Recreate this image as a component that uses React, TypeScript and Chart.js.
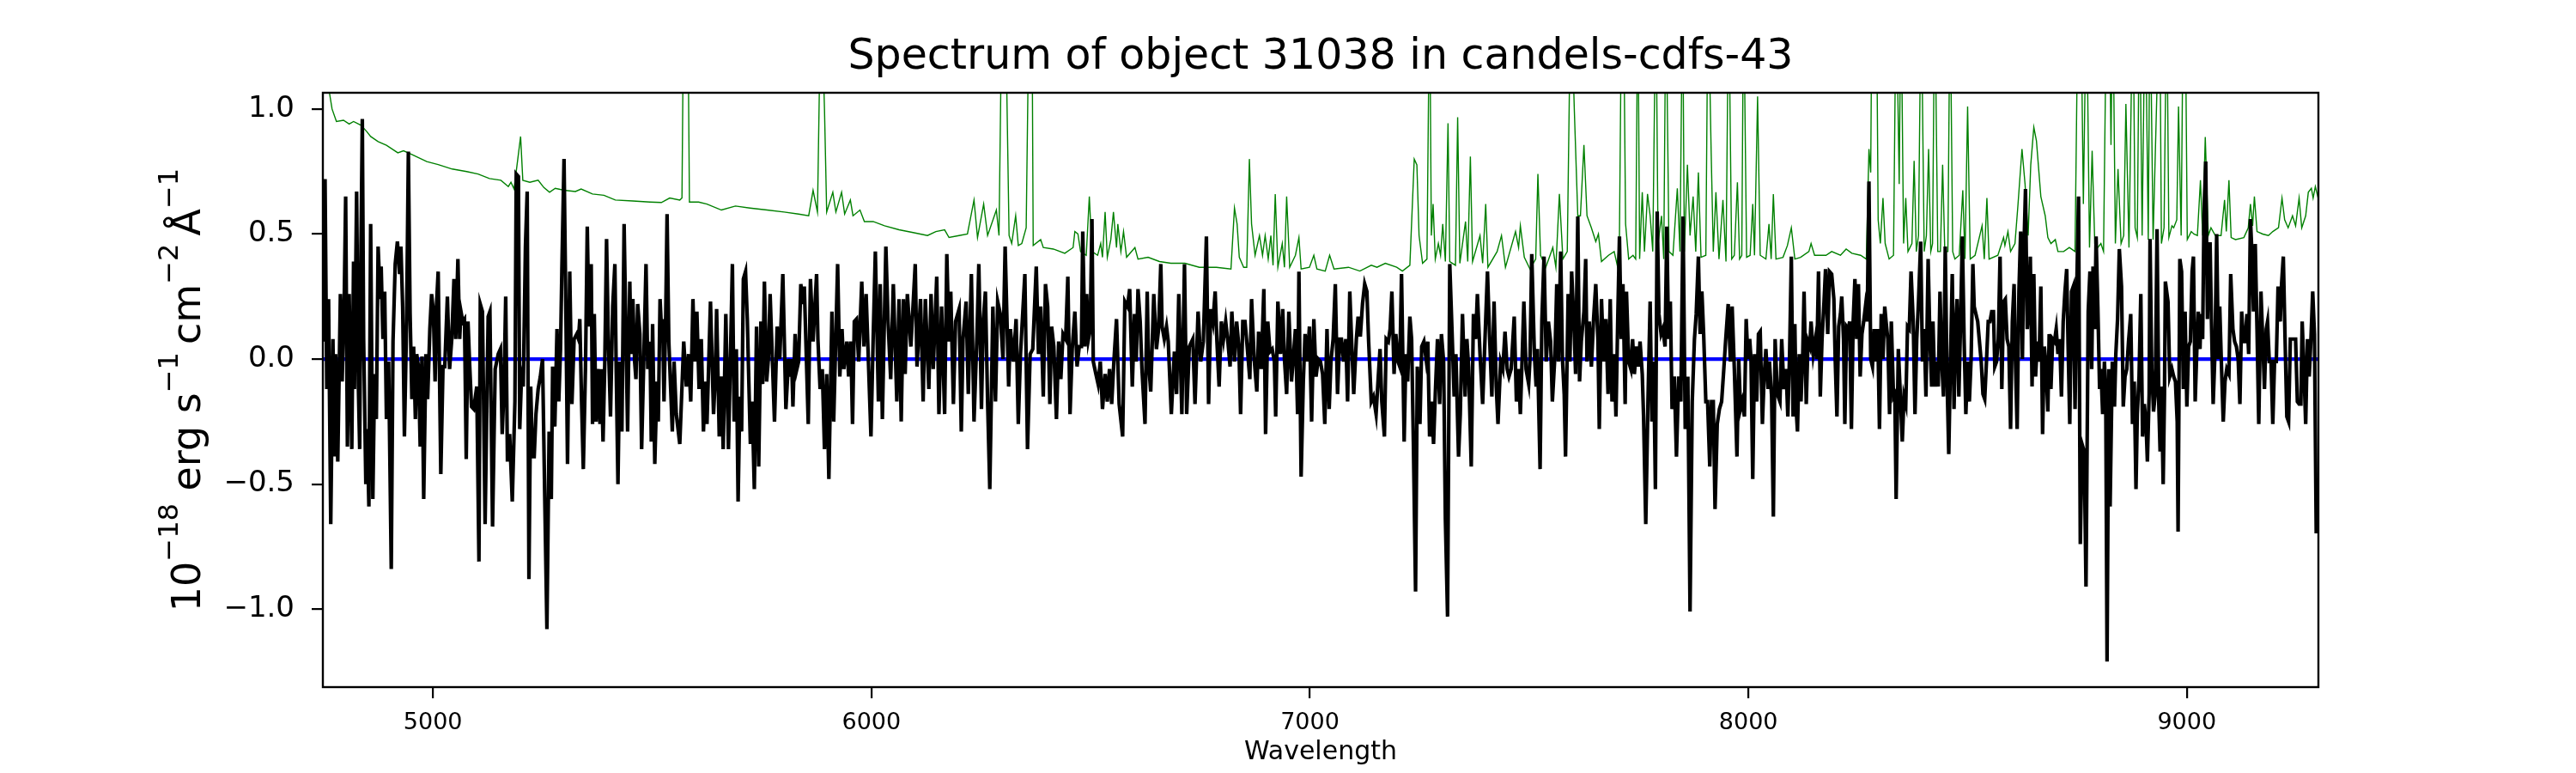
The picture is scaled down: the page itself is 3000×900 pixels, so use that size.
import { useEffect, useRef } from "react"
import { Chart, registerables } from "chart.js"

Chart.register(...registerables)

const chartTitle = "Spectrum of object 31038 in candels-cdfs-43"
const xLabel = "Wavelength"
// y label pieces: [text, superscript?]
const yLabelParts: [string, boolean][] = [
  ["10", false], ["\u221218", true], [" erg s", false], ["\u22121", true],
  ["\u2009cm", false], ["\u22122", true], ["\u2009Å", false], ["\u22121", true],
]

const xTicks = [5000, 6000, 7000, 8000, 9000]
const yTicks = [-1, -0.5, 0, 0.5, 1]

const flux: [number, number][] = [
  [4749, 0.07], [4754, 0.72], [4758, -0.12], [4762, 0.24], [4767, -0.66], [4772, 0.08], [4775, -0.39], [4778, 0.02], [4783, -0.41], [4789, 0.26],
  [4793, -0.09], [4798, 0.27], [4801, 0.65], [4805, -0.35], [4809, 0.26], [4815, -0.36], [4819, 0.39], [4821, -0.12], [4826, 0.67], [4830, -0.11],
  [4833, -0.36], [4836, 0.46], [4839, 0.96], [4842, 0.08], [4847, -0.5], [4850, -0.28], [4854, -0.59], [4858, 0.54], [4863, -0.56], [4867, -0.06],
  [4871, -0.24], [4875, 0.45], [4880, 0.24], [4882, 0.37], [4886, 0.08], [4890, 0.27], [4894, -0.24], [4899, -0.01], [4905, -0.84], [4909, 0.07],
  [4914, 0.38], [4919, 0.47], [4924, 0.34], [4927, 0.45], [4931, 0.21], [4935, -0.31], [4940, 0.15], [4944, 0.83], [4948, 0.18], [4952, -0.16],
  [4956, 0.05], [4960, -0.24], [4963, 0.02], [4967, -0.03], [4971, -0.35], [4975, 0.01], [4979, -0.56], [4984, 0.02], [4988, -0.16], [4993, 0.12],
  [4997, 0.26], [5001, 0.19], [5005, -0.09], [5008, 0.21], [5012, 0.35], [5015, -0.06], [5018, -0.46], [5023, -0.03], [5027, -0.03], [5033, 0.25],
  [5038, -0.04], [5043, 0.08], [5048, 0.32], [5052, 0.08], [5057, 0.4], [5061, 0.08], [5064, 0.19], [5068, 0.15], [5072, 0.16], [5076, -0.4],
  [5080, 0.15], [5084, -0.03], [5088, -0.19], [5093, -0.2], [5100, -0.11], [5105, -0.81], [5108, 0.22], [5113, 0.19], [5119, -0.66], [5126, 0.17],
  [5130, 0.19], [5136, -0.67], [5142, -0.04], [5149, 0.02], [5154, 0.04], [5158, -0.3], [5162, -0.12], [5166, 0.25], [5170, -0.41], [5175, -0.3],
  [5181, -0.57], [5187, -0.17], [5190, 0.74], [5195, 0.73], [5198, -0.28], [5202, -0.07], [5206, -0.11], [5211, 0.45], [5215, 0.67], [5219, -0.88],
  [5223, -0.11], [5227, -0.39], [5231, -0.39], [5235, -0.22], [5240, -0.12], [5245, -0.07], [5250, 0], [5255, -0.55], [5260, -1.08], [5265, -0.29],
  [5270, -0.56], [5273, -0.03], [5278, -0.27], [5283, 0.12], [5287, -0.17], [5291, 0.04], [5294, 0.35], [5299, 0.8], [5303, 0.23], [5307, -0.42],
  [5312, 0.35], [5317, -0.18], [5322, 0.08], [5328, 0.1], [5332, 0.08], [5335, 0.16], [5339, -0.17], [5343, -0.44], [5348, -0.03], [5352, 0.53],
  [5356, 0.13], [5361, 0.38], [5364, -0.26], [5368, 0.18], [5372, -0.25], [5376, -0.04], [5381, -0.26], [5384, -0.04], [5388, -0.33], [5392, -0.01],
  [5396, 0.48], [5400, 0.08], [5405, -0.23], [5410, 0.21], [5415, 0.38], [5418, -0.04], [5422, -0.5], [5426, -0.01], [5431, -0.29], [5436, 0.54],
  [5441, 0.02], [5444, -0.29], [5449, 0.31], [5452, 0.02], [5456, 0.24], [5460, -0.01], [5463, -0.08], [5467, 0.22], [5472, 0.1], [5476, -0.36],
  [5482, 0.08], [5486, 0.38], [5490, -0.04], [5495, 0.07], [5498, -0.33], [5501, 0.14], [5506, -0.42], [5511, -0.09], [5514, -0.25], [5518, 0.24],
  [5521, 0.13], [5524, 0.16], [5527, -0.17], [5531, 0.18], [5534, 0.58], [5538, 0.07], [5546, -0.29], [5550, -0.01], [5555, -0.22], [5563, -0.34],
  [5572, 0.07], [5578, -0.11], [5583, 0.02], [5588, -0.17], [5593, 0.24], [5597, -0.01], [5602, 0.19], [5607, -0.12], [5612, 0.08], [5617, -0.29],
  [5621, -0.09], [5625, -0.26], [5633, 0.23], [5640, -0.22], [5644, -0.07], [5647, 0.2], [5653, -0.31], [5658, -0.07], [5662, -0.36], [5668, 0.18],
  [5674, -0.36], [5679, 0.05], [5683, 0.38], [5687, -0.25], [5692, 0.04], [5696, -0.57], [5700, -0.15], [5704, -0.29], [5708, 0.32], [5713, 0.35],
  [5717, 0.16], [5724, -0.34], [5728, -0.17], [5733, -0.52], [5738, 0.13], [5743, -0.43], [5748, 0.15], [5752, -0.1], [5756, 0.31], [5761, -0.09],
  [5765, 0], [5769, 0.26], [5779, -0.25], [5785, 0.13], [5791, 0], [5798, 0.34], [5805, -0.2], [5811, 0], [5815, -0.07], [5818, 0],
  [5821, -0.19], [5826, 0.1], [5830, -0.04], [5834, -0.01], [5839, 0.3], [5844, 0.22], [5847, 0.29], [5856, -0.26], [5861, 0.32], [5867, 0.07],
  [5875, 0.34], [5878, 0.08], [5883, -0.12], [5888, -0.04], [5893, -0.36], [5898, -0.06], [5903, -0.48], [5910, 0.19], [5914, -0.25], [5923, 0.38],
  [5928, -0.07], [5933, 0.12], [5937, -0.04], [5944, 0.07], [5948, -0.07], [5953, 0.07], [5957, -0.26], [5961, 0.15], [5966, 0.16], [5971, -0.01],
  [5978, 0.31], [5983, 0.05], [5988, 0.26], [5999, -0.31], [6004, 0.08], [6009, 0.43], [6016, -0.17], [6020, 0.3], [6025, -0.24], [6033, 0.45],
  [6038, 0.15], [6044, -0.08], [6050, 0.3], [6058, -0.17], [6063, 0.24], [6068, -0.25], [6073, 0.24], [6077, -0.06], [6082, 0.26], [6090, 0.05],
  [6100, 0.38], [6104, -0.03], [6112, 0.24], [6118, -0.17], [6123, 0.24], [6131, -0.12], [6136, 0.26], [6141, -0.04], [6149, 0.33], [6154, -0.22],
  [6160, 0.21], [6167, -0.22], [6172, 0.42], [6177, 0.07], [6181, 0.27], [6187, -0.18], [6192, 0.15], [6200, 0.2], [6205, -0.29], [6209, 0.08],
  [6216, 0.23], [6221, -0.14], [6228, 0.34], [6234, -0.25], [6241, 0.11], [6245, 0.38], [6251, -0.2], [6255, 0.15], [6260, 0.27], [6265, -0.17],
  [6270, -0.52], [6277, 0.21], [6283, -0.17], [6288, 0.23], [6294, 0.18], [6300, 0], [6305, 0.45], [6313, -0.11], [6317, 0.12], [6324, -0.01],
  [6330, 0.16], [6335, -0.26], [6340, 0.02], [6350, 0.34], [6356, -0.36], [6362, 0.02], [6368, 0.04], [6376, 0.37], [6381, 0.02], [6386, 0.21],
  [6392, -0.15], [6397, 0.3], [6402, 0.21], [6407, -0.18], [6411, 0.13], [6416, 0.05], [6422, -0.24], [6427, 0.07], [6432, -0.08], [6437, 0.1],
  [6443, 0.08], [6448, 0.33], [6453, -0.22], [6458, 0.04], [6464, 0.19], [6469, -0.03], [6474, 0.05], [6479, 0.05], [6482, 0.51], [6487, 0.05],
  [6491, 0.26], [6495, 0.08], [6499, 0.12], [6503, 0.56], [6506, -0.01], [6512, -0.06], [6517, -0.1], [6522, -0.01], [6527, -0.2], [6533, -0.06],
  [6538, -0.17], [6543, -0.04], [6548, -0.18], [6553, -0.01], [6559, 0.16], [6565, -0.18], [6573, -0.31], [6578, 0.23], [6584, 0.21], [6589, 0.28],
  [6595, -0.11], [6600, 0.18], [6604, -0.01], [6608, 0.28], [6613, 0.15], [6617, -0.04], [6624, -0.26], [6629, 0.27], [6632, -0.01], [6637, -0.13],
  [6644, 0.26], [6650, 0.04], [6655, 0.12], [6660, 0.38], [6663, 0.13], [6668, 0.08], [6673, 0.13], [6677, 0.07], [6684, -0.22], [6691, 0.03],
  [6696, -0.14], [6701, 0.26], [6708, -0.22], [6714, 0.38], [6719, -0.22], [6725, 0.05], [6733, 0.08], [6738, -0.18], [6745, 0.19], [6751, -0.01],
  [6757, 0.07], [6764, 0.49], [6769, -0.18], [6774, 0.2], [6779, 0.15], [6784, 0.27], [6788, 0.07], [6793, -0.11], [6798, 0.15], [6803, 0.08],
  [6808, 0.15], [6813, 0.07], [6818, -0.03], [6822, 0.19], [6828, -0.01], [6833, 0.15], [6838, 0.05], [6842, -0.22], [6847, 0.15], [6852, 0.15],
  [6857, 0.05], [6863, -0.08], [6867, 0.24], [6873, 0], [6879, -0.13], [6883, 0.11], [6889, -0.04], [6895, 0.28], [6899, -0.3], [6904, 0.15],
  [6909, 0.03], [6914, 0.04], [6919, -0.01], [6922, -0.23], [6927, 0.23], [6933, 0.02], [6938, 0.2], [6942, 0], [6947, -0.14], [6952, 0.19],
  [6958, -0.09], [6962, 0], [6967, 0.12], [6972, -0.22], [6975, 0.35], [6980, -0.47], [6985, -0.09], [6989, 0.1], [6994, -0.01], [6999, 0.13],
  [7004, -0.25], [7009, 0.16], [7014, -0.07], [7019, 0], [7024, -0.01], [7029, -0.06], [7034, -0.26], [7039, 0.12], [7044, -0.2], [7048, -0.01],
  [7053, 0.08], [7058, 0.3], [7063, -0.14], [7068, 0.08], [7072, 0.08], [7077, -0.01], [7082, 0.08], [7086, -0.17], [7091, 0.27], [7095, 0.08],
  [7100, -0.14], [7106, 0.08], [7110, 0.17], [7115, 0.09], [7120, 0.22], [7125, 0.3], [7130, 0.27], [7134, 0.07], [7140, -0.17], [7145, -0.15],
  [7151, -0.22], [7156, -0.07], [7160, 0.04], [7164, -0.17], [7170, -0.31], [7174, 0.08], [7179, 0.07], [7183, 0.12], [7187, 0.27], [7192, -0.06],
  [7196, 0.1], [7201, -0.01], [7205, -0.03], [7209, 0.34], [7215, -0.33], [7219, 0.02], [7223, -0.09], [7228, 0.17], [7232, 0.08], [7236, -0.33],
  [7241, -0.93], [7245, -0.03], [7251, -0.26], [7255, 0.05], [7260, 0.07], [7265, 0], [7269, 0.07], [7273, -0.31], [7278, -0.17], [7282, -0.34],
  [7286, -0.14], [7291, 0.08], [7296, -0.18], [7300, 0.1], [7305, -0.01], [7309, -0.64], [7314, -1.03], [7319, 0.38], [7324, 0.12], [7329, -0.15],
  [7333, 0.02], [7339, -0.39], [7343, -0.22], [7348, 0.18], [7354, -0.15], [7358, 0.08], [7362, -0.03], [7368, -0.43], [7373, 0.18], [7378, 0.08],
  [7382, 0.26], [7388, 0.02], [7394, -0.18], [7401, 0.16], [7405, 0.35], [7410, 0.08], [7415, -0.15], [7420, 0.23], [7425, -0.11], [7429, -0.26],
  [7435, -0.01], [7440, -0.04], [7445, 0.11], [7450, -0.04], [7454, -0.07], [7459, -0.04], [7466, 0.17], [7471, -0.17], [7476, -0.04], [7480, -0.22],
  [7484, 0], [7488, 0.23], [7493, -0.04], [7499, -0.1], [7502, 0], [7506, 0.42], [7512, 0.02], [7516, -0.11], [7519, 0.04], [7525, -0.44],
  [7529, 0.15], [7534, 0.41], [7539, -0.01], [7544, 0.15], [7549, 0.07], [7553, -0.17], [7559, 0.02], [7563, 0.3], [7567, -0.01], [7572, 0.43],
  [7576, 0], [7580, -0.14], [7583, -0.39], [7589, 0.26], [7593, -0.01], [7597, 0.35], [7602, 0.15], [7606, -0.06], [7611, 0.57], [7615, -0.09],
  [7619, 0.07], [7625, 0.19], [7629, 0.4], [7632, -0.01], [7637, 0.15], [7642, -0.03], [7647, 0.16], [7652, 0.3], [7657, 0.07], [7660, -0.28],
  [7665, 0.24], [7670, -0.01], [7675, 0.16], [7680, -0.14], [7685, 0.24], [7689, -0.17], [7694, 0.02], [7698, -0.23], [7702, 0.15], [7706, 0.49],
  [7710, 0.08], [7714, 0.3], [7719, -0.18], [7722, 0.27], [7727, -0.01], [7732, -0.04], [7736, 0.08], [7740, -0.06], [7745, 0.05], [7749, -0.03],
  [7753, 0.07], [7758, -0.06], [7761, -0.23], [7766, -0.66], [7771, -0.17], [7776, 0.23], [7780, -0.25], [7784, -0.01], [7788, -0.52], [7792, 0.59],
  [7796, 0.18], [7801, 0.1], [7805, 0.12], [7810, 0.05], [7814, 0.53], [7818, 0.08], [7822, 0.23], [7826, -0.2], [7831, -0.07], [7836, -0.39],
  [7841, -0.07], [7846, -0.17], [7851, 0.57], [7856, -0.28], [7862, -0.07], [7867, -1.01], [7872, -0.17], [7877, 0.08], [7881, 0.18], [7886, 0.41],
  [7890, 0.1], [7894, 0.27], [7898, 0.1], [7903, -0.17], [7907, -0.17], [7912, -0.43], [7916, -0.17], [7920, -0.17], [7924, -0.6], [7929, -0.26],
  [7934, -0.2], [7939, -0.17], [7944, -0.04], [7948, 0.07], [7954, 0.22], [7959, -0.01], [7963, 0.21], [7968, -0.04], [7974, -0.39], [7978, 0],
  [7982, -0.2], [7986, -0.17], [7991, -0.23], [7995, 0.16], [7999, 0], [8003, 0.08], [8006, 0], [8010, -0.48], [8014, 0.02], [8019, -0.17],
  [8023, 0.1], [8027, 0.11], [8032, -0.26], [8036, -0.07], [8040, 0.04], [8045, -0.12], [8048, -0.01], [8053, -0.15], [8057, -0.63], [8061, 0.08],
  [8066, -0.14], [8072, -0.17], [8076, 0.08], [8081, -0.12], [8086, -0.04], [8090, -0.23], [8094, 0.02], [8098, 0.41], [8102, -0.23], [8106, 0.14],
  [8109, -0.2], [8112, -0.29], [8116, 0.02], [8120, -0.17], [8124, 0.02], [8127, 0.27], [8132, -0.18], [8136, 0.07], [8140, 0.05], [8143, 0.15],
  [8148, 0.02], [8153, 0.08], [8156, 0], [8160, 0.35], [8164, -0.15], [8168, 0.08], [8172, 0.21], [8176, 0.36], [8181, 0.1], [8185, 0.35],
  [8190, 0.34], [8195, 0.24], [8198, 0], [8202, -0.23], [8206, 0.13], [8210, 0.18], [8213, 0.25], [8217, 0.08], [8220, -0.26], [8224, 0.13],
  [8228, 0.12], [8231, 0.15], [8235, -0.28], [8239, 0.15], [8243, 0.32], [8247, 0.08], [8251, 0.3], [8255, -0.07], [8259, 0.1], [8263, 0.15],
  [8267, 0.21], [8271, 0.15], [8275, 0.71], [8279, 0], [8283, -0.03], [8287, 0.12], [8291, -0.01], [8295, 0.12], [8299, -0.28], [8303, 0.18],
  [8307, 0], [8311, 0.21], [8314, 0.15], [8318, 0.08], [8322, -0.22], [8326, 0.15], [8331, -0.15], [8334, -0.14], [8337, -0.56], [8342, 0.04],
  [8346, -0.12], [8351, -0.33], [8355, -0.15], [8359, -0.18], [8363, 0.13], [8367, 0.12], [8371, 0.35], [8376, 0.15], [8380, -0.22], [8384, 0.08],
  [8388, 0.23], [8393, 0.47], [8397, -0.01], [8401, 0.12], [8405, -0.15], [8410, 0.4], [8414, 0.08], [8418, -0.11], [8421, 0.15], [8425, -0.11],
  [8429, -0.01], [8433, -0.11], [8437, 0.27], [8441, -0.01], [8445, -0.15], [8449, 0.45], [8453, -0.07], [8457, -0.38], [8461, 0], [8465, 0.34],
  [8469, -0.2], [8473, 0.13], [8476, 0.24], [8480, -0.15], [8484, 0.15], [8488, 0.49], [8492, 0.08], [8496, -0.22], [8500, -0.01], [8504, -0.17],
  [8508, 0], [8512, 0.38], [8515, 0.21], [8519, 0.18], [8523, 0.15], [8531, -0.01], [8535, -0.14], [8539, -0.16], [8543, -0.01], [8547, 0.15],
  [8551, 0.15], [8555, 0.19], [8559, 0.19], [8562, -0.03], [8566, -0.01], [8570, 0.08], [8574, 0.41], [8578, -0.12], [8582, 0.23], [8586, 0.24],
  [8590, 0.08], [8594, 0.05], [8598, -0.28], [8602, 0.15], [8606, 0.3], [8609, 0], [8613, -0.28], [8617, 0.27], [8621, 0.51], [8625, 0],
  [8628, 0.41], [8632, 0.68], [8636, 0.12], [8640, 0.21], [8643, 0.41], [8647, -0.11], [8651, 0.34], [8655, -0.07], [8659, 0.07], [8663, -0.01],
  [8667, 0.29], [8671, -0.3], [8675, 0.05], [8679, -0.03], [8683, -0.21], [8686, 0.1], [8690, -0.12], [8694, 0.08], [8698, 0.07], [8702, 0.12],
  [8706, 0.02], [8710, 0.08], [8714, -0.15], [8718, 0.15], [8722, 0.27], [8726, 0.36], [8729, 0.07], [8733, -0.26], [8737, 0.27], [8741, 0.29],
  [8745, -0.2], [8749, 0.29], [8753, 0.65], [8757, -0.74], [8761, -0.34], [8766, -0.37], [8770, -0.91], [8775, 0.19], [8779, 0.35], [8783, -0.04],
  [8786, 0.37], [8790, 0.12], [8793, 0.49], [8797, 0.21], [8801, -0.12], [8804, -0.04], [8808, -0.22], [8812, -0.01], [8815, -0.14], [8818, -1.21],
  [8822, -0.04], [8825, -0.59], [8830, -0.01], [8835, -0.19], [8838, 0.02], [8842, 0.16], [8846, 0.44], [8851, 0.29], [8855, -0.19], [8859, -0.07],
  [8863, -0.04], [8867, 0.07], [8872, 0.18], [8876, -0.26], [8880, -0.09], [8884, -0.52], [8887, -0.22], [8891, -0.07], [8895, 0.26], [8899, -0.31],
  [8903, -0.18], [8907, -0.26], [8910, -0.41], [8914, -0.14], [8916, 0.48], [8920, -0.04], [8924, -0.21], [8928, -0.14], [8932, 0.52], [8936, -0.18],
  [8939, -0.37], [8942, -0.11], [8946, -0.5], [8949, -0.14], [8951, 0.31], [8957, 0.23], [8961, -0.07], [8966, -0.04], [8970, -0.07], [8974, -0.09],
  [8978, -0.25], [8980, -0.69], [8984, 0.4], [8988, 0.35], [8992, -0.12], [8996, 0.19], [9000, -0.19], [9004, 0.05], [9008, 0.07], [9012, 0.35],
  [9015, 0.41], [9019, -0.17], [9023, 0.05], [9026, 0.19], [9030, 0.04], [9032, 0.18], [9036, 0.08], [9039, 0.57], [9043, 0.79], [9047, 0.16],
  [9050, 0.46], [9053, 0.46], [9056, 0.16], [9060, -0.18], [9064, 0.02], [9068, 0.5], [9072, 0], [9075, 0.21], [9079, -0.03], [9083, -0.25],
  [9087, -0.09], [9091, -0.04], [9096, -0.06], [9100, 0.34], [9105, 0.12], [9109, 0.07], [9113, 0.05], [9117, 0], [9121, -0.18], [9125, 0.19],
  [9129, 0.07], [9133, 0.07], [9137, 0.18], [9141, 0.02], [9145, 0.56], [9149, 0.4], [9152, 0.19], [9156, 0.46], [9160, 0.12], [9164, -0.26],
  [9169, 0.27], [9173, 0.08], [9177, -0.12], [9181, 0.12], [9184, 0.15], [9188, -0.01], [9192, -0.01], [9196, -0.26], [9200, -0.01], [9204, -0.01],
  [9208, 0.29], [9213, 0.15], [9216, 0.3], [9220, 0.41], [9224, 0.08], [9228, -0.23], [9232, -0.25], [9236, 0.08], [9240, 0.08], [9248, 0.08],
  [9252, -0.17], [9256, -0.18], [9260, -0.18], [9263, 0.15], [9267, -0.04], [9271, -0.26], [9275, 0.08], [9279, -0.07], [9283, 0.08], [9287, 0.27],
  [9291, 0.1], [9295, -0.69], [9300, -0.69],
]

// noise spectrum (green)
const noise: [number, number][] = [
  [4749, 1.4], [4764, 1.065], [4770, 1.0], [4780, 0.95], [4796, 0.955], [4809, 0.94], [4819, 0.95], [4836, 0.935], [4849, 0.91], [4858, 0.89],
  [4875, 0.87], [4894, 0.855], [4920, 0.825], [4933, 0.833], [4953, 0.817], [4986, 0.79], [5012, 0.778], [5044, 0.76], [5077, 0.75], [5103, 0.74],
  [5129, 0.722], [5155, 0.715], [5172, 0.69], [5178, 0.707], [5185, 0.68], [5200, 0.89], [5205, 0.715], [5221, 0.707], [5240, 0.715], [5253, 0.686],
  [5266, 0.667], [5279, 0.683], [5299, 0.675], [5325, 0.67], [5338, 0.68], [5364, 0.66], [5390, 0.655], [5416, 0.636], [5456, 0.632], [5495, 0.628],
  [5521, 0.626], [5540, 0.644], [5563, 0.636], [5568, 0.644], [5572, 1.5], [5581, 1.5], [5585, 0.628], [5606, 0.628], [5625, 0.62], [5658, 0.596],
  [5690, 0.612], [5723, 0.604], [5762, 0.596], [5801, 0.588], [5834, 0.58], [5857, 0.573], [5867, 0.675], [5877, 0.588], [5885, 1.5], [5893, 1.0],
  [5898, 0.588], [5912, 0.667], [5919, 0.588], [5932, 0.667], [5939, 0.58], [5952, 0.636], [5958, 0.573], [5974, 0.596], [5984, 0.55], [6004, 0.55],
  [6030, 0.533], [6063, 0.517], [6095, 0.506], [6128, 0.494], [6147, 0.51], [6167, 0.517], [6177, 0.486], [6200, 0.494], [6219, 0.5], [6234, 0.636],
  [6242, 0.486], [6256, 0.62], [6265, 0.494], [6285, 0.596], [6291, 0.494], [6298, 1.5], [6305, 1.5], [6314, 0.494], [6320, 0.462], [6329, 0.573],
  [6335, 0.454], [6343, 0.462], [6353, 0.525], [6360, 1.5], [6366, 1.5], [6369, 0.454], [6386, 0.478], [6392, 0.446], [6415, 0.44], [6441, 0.423],
  [6460, 0.446], [6464, 0.51], [6471, 0.5], [6477, 0.43], [6490, 0.415], [6497, 0.65], [6503, 0.43], [6516, 0.415], [6523, 0.462], [6527, 0.407],
  [6533, 0.588], [6538, 0.407], [6546, 0.478], [6552, 0.588], [6559, 0.446], [6562, 0.54], [6569, 0.43], [6575, 0.51], [6582, 0.407], [6601, 0.446],
  [6608, 0.4], [6631, 0.407], [6657, 0.39], [6683, 0.383], [6715, 0.383], [6748, 0.367], [6787, 0.367], [6820, 0.36], [6828, 0.604], [6834, 0.54],
  [6839, 0.407], [6849, 0.367], [6856, 0.367], [6862, 0.8], [6867, 0.54], [6875, 0.415], [6885, 0.494], [6892, 0.415], [6898, 0.494], [6905, 0.4],
  [6911, 0.494], [6916, 0.375], [6921, 0.66], [6927, 0.367], [6937, 0.462], [6942, 0.367], [6947, 0.65], [6954, 0.367], [6967, 0.415], [6975, 0.486],
  [6980, 0.36], [6999, 0.367], [7009, 0.415], [7016, 0.36], [7035, 0.352], [7045, 0.415], [7055, 0.36], [7088, 0.367], [7114, 0.352], [7140, 0.375],
  [7153, 0.367], [7172, 0.383], [7198, 0.367], [7211, 0.352], [7228, 0.375], [7238, 0.8], [7244, 0.777], [7249, 0.494], [7257, 0.383], [7267, 0.4],
  [7273, 1.5], [7277, 0.494], [7281, 0.62], [7286, 0.4], [7293, 0.462], [7298, 0.415], [7303, 0.54], [7309, 0.39], [7315, 0.943], [7319, 0.39],
  [7332, 0.375], [7337, 0.967], [7342, 0.383], [7355, 0.55], [7360, 0.39], [7366, 0.81], [7371, 0.39], [7388, 0.494], [7394, 0.383], [7401, 0.62],
  [7406, 0.367], [7427, 0.43], [7437, 0.494], [7446, 0.367], [7469, 0.51], [7476, 0.446], [7480, 0.533], [7489, 0.407], [7502, 0.36], [7515, 0.4],
  [7520, 0.74], [7526, 0.415], [7538, 0.367], [7554, 0.446], [7561, 0.367], [7569, 0.66], [7577, 0.4], [7587, 0.43], [7595, 1.5], [7603, 1.0],
  [7611, 0.573], [7617, 0.573], [7625, 0.856], [7632, 0.573], [7642, 0.525], [7652, 0.47], [7658, 0.5], [7665, 0.39], [7681, 0.415], [7694, 0.43],
  [7701, 0.375], [7706, 0.494], [7711, 1.5], [7715, 1.5], [7720, 0.54], [7727, 0.4], [7737, 0.415], [7743, 0.4], [7748, 1.5], [7752, 0.4],
  [7758, 0.667], [7763, 0.43], [7770, 0.66], [7776, 0.573], [7782, 0.43], [7789, 1.5], [7794, 0.462], [7802, 0.573], [7807, 0.4], [7812, 1.5],
  [7819, 0.43], [7828, 0.415], [7838, 0.683], [7844, 0.43], [7850, 1.5], [7854, 0.43], [7861, 0.777], [7867, 0.494], [7874, 0.65], [7880, 0.43],
  [7886, 0.746], [7892, 0.407], [7903, 0.415], [7908, 1.5], [7915, 0.84], [7920, 0.43], [7926, 0.667], [7933, 0.4], [7942, 0.636], [7949, 0.39],
  [7955, 1.5], [7962, 0.4], [7968, 0.415], [7975, 0.707], [7980, 0.4], [7985, 0.415], [7989, 1.5], [7996, 0.407], [8004, 0.415], [8010, 0.62],
  [8014, 0.415], [8021, 1.05], [8027, 0.415], [8040, 0.4], [8047, 0.54], [8052, 0.4], [8057, 0.66], [8063, 0.4], [8079, 0.407], [8089, 0.454],
  [8098, 0.525], [8106, 0.4], [8119, 0.407], [8138, 0.43], [8143, 0.462], [8151, 0.415], [8177, 0.415], [8190, 0.43], [8210, 0.415], [8223, 0.44],
  [8236, 0.423], [8256, 0.415], [8269, 0.4], [8275, 0.84], [8279, 0.746], [8282, 1.5], [8292, 1.5], [8296, 0.557], [8301, 0.462], [8307, 0.644],
  [8312, 0.462], [8321, 0.4], [8331, 0.415], [8337, 1.5], [8344, 0.7], [8348, 1.5], [8354, 0.462], [8359, 0.644], [8364, 0.43], [8373, 0.462],
  [8378, 0.793], [8383, 0.43], [8388, 0.494], [8394, 1.5], [8401, 0.43], [8406, 0.494], [8411, 0.84], [8416, 0.43], [8420, 0.462], [8425, 1.5],
  [8432, 0.43], [8438, 0.43], [8443, 0.777], [8448, 0.43], [8455, 0.43], [8460, 1.5], [8466, 0.43], [8471, 0.4], [8481, 0.415], [8489, 0.675],
  [8494, 0.4], [8500, 1.01], [8506, 0.4], [8517, 0.415], [8533, 0.533], [8538, 0.4], [8544, 0.644], [8549, 0.4], [8569, 0.415], [8582, 0.486],
  [8585, 0.454], [8592, 0.51], [8598, 0.43], [8608, 0.462], [8615, 0.62], [8624, 0.84], [8631, 0.7], [8638, 0.494], [8644, 0.777], [8651, 0.927],
  [8657, 0.872], [8667, 0.65], [8677, 0.573], [8683, 0.486], [8690, 0.462], [8700, 0.478], [8706, 0.43], [8719, 0.43], [8732, 0.446], [8745, 0.43],
  [8752, 1.5], [8758, 1.5], [8764, 0.62], [8771, 1.5], [8778, 0.446], [8784, 0.833], [8790, 0.462], [8797, 0.446], [8804, 0.462], [8810, 0.43],
  [8817, 1.5], [8823, 1.5], [8827, 0.856], [8831, 1.5], [8837, 0.462], [8843, 0.76], [8850, 0.462], [8856, 0.494], [8861, 1.02], [8868, 0.446],
  [8877, 1.5], [8882, 0.525], [8887, 0.486], [8892, 1.5], [8898, 0.494], [8905, 1.5], [8912, 0.478], [8916, 1.5], [8923, 0.478], [8938, 1.5],
  [8942, 0.462], [8948, 0.525], [8954, 1.5], [8959, 0.486], [8966, 0.533], [8970, 0.525], [8977, 0.557], [8981, 1.01], [8987, 0.494], [8992, 1.5],
  [8996, 1.5], [9001, 0.478], [9010, 0.51], [9016, 0.5], [9024, 0.494], [9031, 0.715], [9036, 0.494], [9042, 0.888], [9049, 0.494], [9055, 0.525],
  [9065, 0.494], [9078, 0.494], [9086, 0.636], [9090, 0.51], [9096, 0.715], [9101, 0.486], [9111, 0.478], [9130, 0.486], [9140, 0.525], [9145, 0.62],
  [9150, 0.533], [9154, 0.65], [9160, 0.51], [9173, 0.5], [9186, 0.494], [9196, 0.51], [9209, 0.525], [9217, 0.644], [9223, 0.557], [9231, 0.525],
  [9241, 0.573], [9248, 0.533], [9256, 0.644], [9262, 0.525], [9271, 0.573], [9277, 0.667], [9284, 0.683], [9288, 0.644], [9293, 0.69], [9300, 0.64],
]

// model continuum (blue)
const model: [number, number][] = [[4749, 0], [9300, 0]]

const toPoints = (pairs: [number, number][]) => pairs.map(([x, y]) => ({ x, y }))

const font = "'DejaVu Sans', sans-serif"

// frame, title and the y label with real superscripts
const decorPlugin = {
  id: "decor",
  afterDraw(chart: Chart) {
    const { ctx, chartArea } = chart
    ctx.save()
    ctx.strokeStyle = "#000"
    ctx.lineWidth = 2.4
    ctx.strokeRect(chartArea.left, chartArea.top, chartArea.right - chartArea.left, chartArea.bottom - chartArea.top)

    ctx.fillStyle = "#000"
    ctx.font = `49px ${font}`
    ctx.textAlign = "center"
    ctx.textBaseline = "alphabetic"
    ctx.fillText(chartTitle, (chartArea.left + chartArea.right) / 2, 80)

    const mainFont = `46px ${font}`
    const supFont = `32px ${font}`
    let total = 0
    for (const [text, sup] of yLabelParts) {
      ctx.font = sup ? supFont : mainFont
      total += ctx.measureText(text).width
    }
    ctx.translate(233, (chartArea.top + chartArea.bottom) / 2)
    ctx.rotate(-Math.PI / 2)
    ctx.textAlign = "left"
    let x = -total / 2
    for (const [text, sup] of yLabelParts) {
      ctx.font = sup ? supFont : mainFont
      ctx.fillText(text, x, sup ? -26 : 0)
      x += ctx.measureText(text).width
    }
    ctx.restore()
  },
}

export default function App() {
  const chartRef = useRef<HTMLCanvasElement>(null)
  const chartInstance = useRef<Chart | null>(null)

  useEffect(() => {
    if (!chartRef.current) return
    if (chartInstance.current) chartInstance.current.destroy()

    chartInstance.current = new Chart(chartRef.current, {
      type: "line",
      data: {
        datasets: [
          {
            label: "flux",
            data: toPoints(flux),
            borderColor: "#000000",
            borderWidth: 4.2,
            pointRadius: 0,
            order: 0,
            clip: 0,
          },
          {
            label: "model",
            data: toPoints(model),
            borderColor: "#0000ff",
            borderWidth: 4.2,
            pointRadius: 0,
            order: 1,
            clip: 0,
          },
          {
            label: "noise",
            data: toPoints(noise),
            borderColor: "#008000",
            borderWidth: 1.4,
            pointRadius: 0,
            order: 2,
            clip: 0,
          },
        ],
      },
      options: {
        responsive: false,
        animation: false,
        devicePixelRatio: 1,
        events: [],
        layout: { padding: { top: 108, right: 300, bottom: 0, left: 0 } },
        plugins: {
          legend: { display: false },
          tooltip: { enabled: false },
          title: { display: false },
        },
        scales: {
          x: {
            type: "linear",
            min: 4749,
            max: 9300,
            afterBuildTicks: (scale) => {
              scale.ticks = xTicks.map((value) => ({ value }))
            },
            afterFit: (scale) => {
              scale.height = 100
            },
            grid: { drawOnChartArea: false, tickLength: 13, color: "#000", lineWidth: 2.2 },
            border: { display: false },
            ticks: {
              color: "#000",
              font: { family: font, size: 27 },
              padding: 13,
              maxRotation: 0,
              autoSkip: false,
              callback: (value) => String(value),
            },
            title: {
              display: true,
              text: xLabel,
              color: "#000",
              font: { family: font, size: 30 },
              padding: { top: 0, bottom: 6 },
            },
          },
          y: {
            type: "linear",
            min: -1.312,
            max: 1.065,
            afterBuildTicks: (scale) => {
              scale.ticks = yTicks.map((value) => ({ value }))
            },
            afterFit: (scale) => {
              scale.width = 376
            },
            grid: { drawOnChartArea: false, tickLength: 13, color: "#000", lineWidth: 2.2 },
            border: { display: false },
            ticks: {
              color: "#000",
              font: { family: font, size: 34 },
              padding: 20,
              callback: (value) => Number(value).toFixed(1).replace("-", "\u2212"),
            },
          },
        },
      },
      plugins: [decorPlugin],
    })

    return () => {
      if (chartInstance.current) {
        chartInstance.current.destroy()
        chartInstance.current = null
      }
    }
  }, [])

  return (
    <div style={{ position: "absolute", left: 0, top: 0, width: 3000, height: 900, background: "#fff" }}>
      <canvas ref={chartRef} width={3000} height={900} style={{ display: "block", width: 3000, height: 900 }} />
    </div>
  )
}
